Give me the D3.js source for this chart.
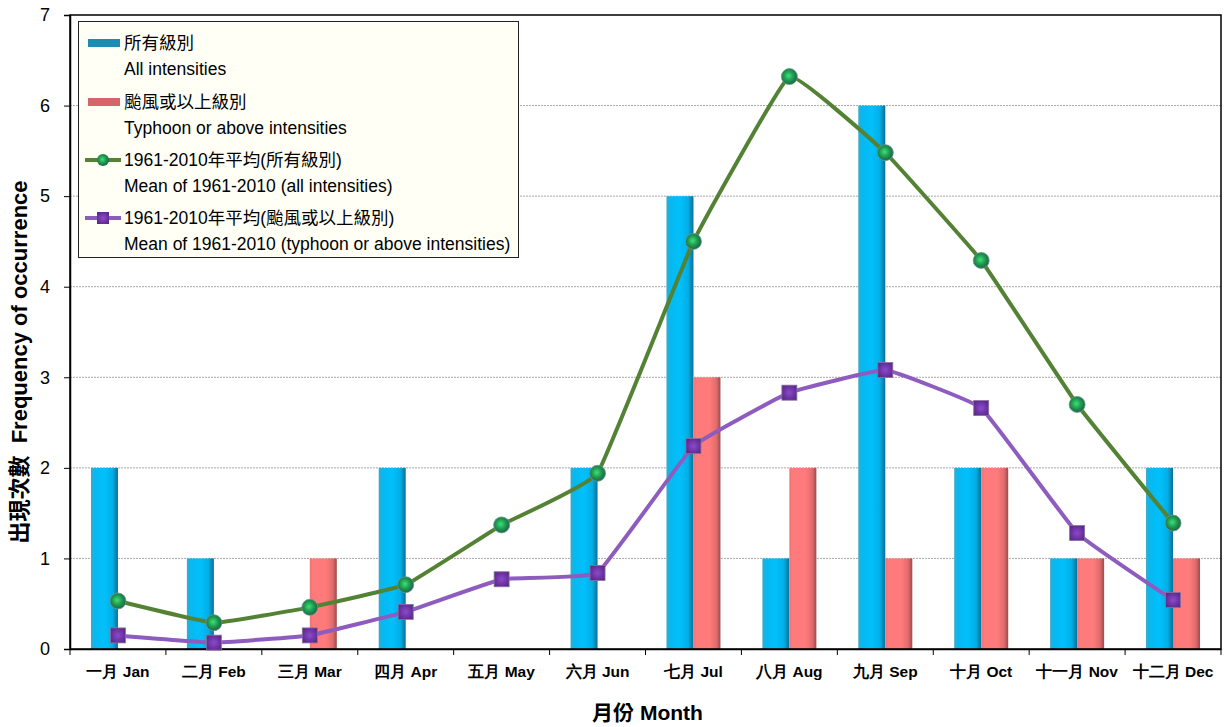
<!DOCTYPE html>
<html><head><meta charset="utf-8">
<script src="https://cdn.jsdelivr.net/npm/d3@7"></script>
<style>
body{margin:0;background:#fff;}
svg{display:block;font-family:"Liberation Sans",Arial,"Noto Sans CJK TC",sans-serif;}
</style></head>
<body>
<script>
const months = ["一月 Jan","二月 Feb","三月 Mar","四月 Apr","五月 May","六月 Jun","七月 Jul","八月 Aug","九月 Sep","十月 Oct","十一月 Nov","十二月 Dec"];
const allIntensities = [2,1,0,2,0,2,5,1,6,2,1,2];
const typhoonAbove = [0,0,1,0,0,0,3,2,1,2,1,1];
const meanAll = [0.53,0.29,0.46,0.71,1.37,1.94,4.50,6.32,5.48,4.29,2.70,1.39];
const meanTyphoon = [0.15,0.07,0.15,0.41,0.77,0.84,2.24,2.83,3.08,2.66,1.28,0.54];
const yTicks = [0,1,2,3,4,5,6,7];
const legendItems = [
  ["所有級別","All intensities"],
  ["颱風或以上級別","Typhoon or above intensities"],
  ["1961-2010年平均(所有級別)","Mean of 1961-2010 (all intensities)"],
  ["1961-2010年平均(颱風或以上級別)","Mean of 1961-2010 (typhoon or above intensities)"]
];

const W=1226,H=727;
const m={left:70,right:1221,top:15,bottom:649};
const svg=d3.select("body").append("svg").attr("width",W).attr("height",H);
const defs=svg.append("defs");
function hgrad(id,stops){
  const g=defs.append("linearGradient").attr("id",id).attr("x1","0").attr("x2","1").attr("y1","0").attr("y2","0");
  stops.forEach(s=>g.append("stop").attr("offset",s[0]).attr("stop-color",s[1]));
}
hgrad("gBlue",[[0,"#3aa9c9"],[0.12,"#08b8ef"],[0.5,"#00c0fb"],[0.8,"#03aee6"],[1,"#0a6f94"]]);
hgrad("gRed",[[0,"#e87676"],[0.12,"#ff7b7b"],[0.6,"#ff7b7b"],[0.85,"#e06b6b"],[1,"#9a4c4c"]]);
const rg=defs.append("radialGradient").attr("id","gGreen").attr("cx","0.45").attr("cy","0.45").attr("r","0.6");
rg.append("stop").attr("offset",0).attr("stop-color","#3ee07a");
rg.append("stop").attr("offset",0.5).attr("stop-color","#1f9a4e");
rg.append("stop").attr("offset",1).attr("stop-color","#1c5a4a");
const rp=defs.append("radialGradient").attr("id","gPurple").attr("cx","0.5").attr("cy","0.5").attr("r","0.7");
rp.append("stop").attr("offset",0).attr("stop-color","#8a4cc8");
rp.append("stop").attr("offset",0.6).attr("stop-color","#6a2fa0");
rp.append("stop").attr("offset",1).attr("stop-color","#4b2a6a");

const x=d3.scaleBand().domain(months).range([m.left,m.right]).padding(0);
const y=d3.scaleLinear().domain([0,7]).range([m.bottom,m.top]);
const bw=27;

// gridlines
svg.append("g").selectAll("line").data(yTicks.filter(t=>t>0&&t<7)).join("line")
  .attr("x1",m.left).attr("x2",m.right).attr("y1",d=>y(d)).attr("y2",d=>y(d))
  .attr("stroke","#a8a8a8").attr("stroke-width",1).attr("stroke-dasharray","2,1");

// bars
const cx=d=>x(d)+x.bandwidth()/2;
svg.append("g").selectAll("rect").data(months.map((mo,i)=>({mo,v:allIntensities[i]})).filter(d=>d.v>0)).join("rect")
  .attr("x",d=>cx(d.mo)-bw).attr("width",bw).attr("y",d=>y(d.v)).attr("height",d=>y(0)-y(d.v))
  .attr("fill","url(#gBlue)");
svg.append("g").selectAll("rect").data(months.map((mo,i)=>({mo,v:typhoonAbove[i]})).filter(d=>d.v>0)).join("rect")
  .attr("x",d=>cx(d.mo)).attr("width",bw).attr("y",d=>y(d.v)).attr("height",d=>y(0)-y(d.v))
  .attr("fill","url(#gRed)");

// frame
svg.append("rect").attr("x",m.left).attr("y",m.top).attr("width",m.right-m.left).attr("height",m.bottom-m.top)
  .attr("fill","none").attr("stroke","#000").attr("stroke-width",1.5);

// axes
const yAxis=svg.append("g").attr("transform",`translate(${m.left},0)`)
  .call(d3.axisLeft(y).tickValues(yTicks).tickSize(6).tickFormat(d3.format("d")));
yAxis.select(".domain").attr("stroke","#000").attr("stroke-width",1.5);
yAxis.selectAll("text").attr("font-size",18).attr("fill","#000").attr("x",-20).attr("font-family","'Liberation Sans',Arial,sans-serif");
yAxis.selectAll("line").attr("stroke","#000");

const xAxis=svg.append("g").attr("transform",`translate(0,${m.bottom})`)
  .call(d3.axisBottom(x).tickSize(0).tickPadding(17));
xAxis.select(".domain").attr("stroke","#000").attr("stroke-width",1.5);
xAxis.selectAll("text").attr("font-size",15.5).attr("font-weight","bold").attr("fill","#000");
svg.append("g").selectAll("line").data(d3.range(months.length+1)).join("line")
  .attr("x1",i=>m.left+i*x.bandwidth()).attr("x2",i=>m.left+i*x.bandwidth())
  .attr("y1",m.bottom).attr("y2",m.bottom+6).attr("stroke","#000").attr("stroke-width",1);

// lines
const line=d3.line().x((d,i)=>cx(months[i])).y(d=>y(d)).curve(d3.curveCardinal.tension(0.75));
svg.append("path").attr("d",line(meanAll)).attr("fill","none").attr("stroke","#548235").attr("stroke-width",4);
svg.append("path").attr("d",line(meanTyphoon)).attr("fill","none").attr("stroke","#8e5bbf").attr("stroke-width",4);
svg.append("g").selectAll("circle").data(meanAll).join("circle")
  .attr("cx",(d,i)=>cx(months[i])).attr("cy",d=>y(d)).attr("r",8)
  .attr("fill","url(#gGreen)").attr("stroke","#6a9a8a").attr("stroke-width",0.8);
svg.append("g").selectAll("rect").data(meanTyphoon).join("rect")
  .attr("x",(d,i)=>cx(months[i])-7.5).attr("y",d=>y(d)-7.5).attr("width",15).attr("height",15)
  .attr("fill","url(#gPurple)").attr("stroke","#8a70a0").attr("stroke-width",0.8);

// axis titles
svg.append("text").attr("transform","translate(27,362) rotate(-90)").attr("text-anchor","middle")
  .attr("font-size",22).attr("font-weight","bold").attr("fill","#000").attr("xml:space","preserve")
  .text("出現次數  Frequency of occurrence");
svg.append("text").attr("x",(m.left+m.right)/2+2).attr("y",720).attr("text-anchor","middle")
  .attr("font-size",21).attr("font-weight","bold").attr("fill","#000").text("月份 Month");

// legend
const lg=svg.append("g");
lg.append("rect").attr("x",78.5).attr("y",21.5).attr("width",440).attr("height",236)
  .attr("fill","#fffff6").attr("stroke","#222").attr("stroke-width",1);
const rowY=[43,102,160,218];
legendItems.forEach((it,i)=>{
  const yy=rowY[i];
  if(i===0) lg.append("rect").attr("x",88).attr("y",yy-4).attr("width",32).attr("height",8).attr("fill","#1a8db5");
  if(i===1) lg.append("rect").attr("x",88).attr("y",yy-4).attr("width",32).attr("height",8).attr("fill","#d9636b");
  if(i===2){
    lg.append("line").attr("x1",85).attr("x2",121).attr("y1",yy).attr("y2",yy).attr("stroke","#548235").attr("stroke-width",4);
    lg.append("circle").attr("cx",103).attr("cy",yy).attr("r",6).attr("fill","url(#gGreen)");
  }
  if(i===3){
    lg.append("line").attr("x1",85).attr("x2",121).attr("y1",yy).attr("y2",yy).attr("stroke","#8e5bbf").attr("stroke-width",4);
    lg.append("rect").attr("x",97).attr("y",yy-6).attr("width",12).attr("height",12).attr("fill","url(#gPurple)");
  }
  lg.append("text").attr("x",124).attr("y",yy+6).attr("font-size",17.5).attr("fill","#000").text(it[0]);
  lg.append("text").attr("x",124).attr("y",yy+32).attr("font-size",17.5).attr("fill","#000").text(it[1]);
});
</script>
</body></html>
